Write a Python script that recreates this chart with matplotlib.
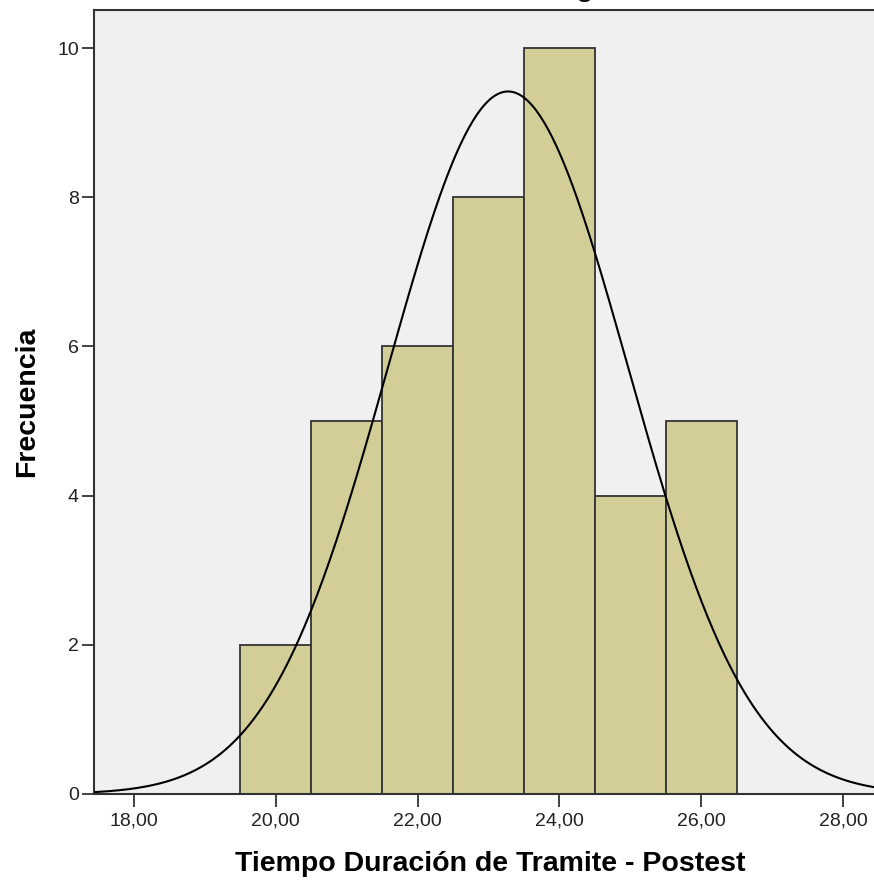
import numpy as np
import matplotlib.pyplot as plt

# histogram bins (class midpoints) and frequencies
bin_centers = [20, 21, 22, 23, 24, 25, 26]
counts = [2, 5, 6, 8, 10, 4, 5]
bin_width = 1.0

x_ticks = [18, 20, 22, 24, 26, 28]
x_tick_labels = ["18,00", "20,00", "22,00", "24,00", "26,00", "28,00"]
y_ticks = [0, 2, 4, 6, 8, 10]

plt.rcParams["font.family"] = ["Liberation Sans", "DejaVu Sans"]

fig = plt.figure(figsize=(8.74, 8.83), dpi=100)
ax = fig.add_axes([0.1076, 0.1008, 0.906, 0.8879])
ax.set_facecolor("#f0f0f0")

ax.bar(bin_centers, counts, width=bin_width, color="#d3ce98",
       edgecolor="#333333", linewidth=1.3, zorder=2)

# normal curve fitted to the binned data
centers = np.array(bin_centers, dtype=float)
freq = np.array(counts, dtype=float)
n = freq.sum()
mean = (centers * freq).sum() / n
sd = np.sqrt(((centers - mean) ** 2 * freq).sum() / (n - 1))
xs = np.linspace(17.3, 28.8, 400)
ys = n * bin_width / (sd * np.sqrt(2 * np.pi)) * np.exp(-0.5 * ((xs - mean) / sd) ** 2)
ax.plot(xs, ys, color="black", linewidth=1.5, zorder=3)

ax.set_xlim(17.44, 28.6)
ax.set_ylim(0, 10.51)
ax.set_xticks(x_ticks)
ax.set_xticklabels(x_tick_labels)
ax.set_yticks(y_ticks)
ax.tick_params(axis="both", direction="out", length=9, width=1.3,
               color="#333333", labelsize=14, labelcolor="#222222", pad=2)
ax.tick_params(axis="x", pad=4)

for s in ax.spines.values():
    s.set_color("#333333")
    s.set_linewidth(1.5)

ax.set_xlabel("Tiempo Duración de Tramite - Postest", fontsize=20.5,
              fontweight="bold", labelpad=16)
ax.set_ylabel("Frecuencia", fontsize=20.5, fontweight="bold", labelpad=12)

# title mostly cut off at the top of the image
fig.text(0.668, 1.005, "Histograma", ha="center", va="baseline",
         fontsize=20.5, fontweight="bold")

fig.savefig("out.png", dpi=100)
